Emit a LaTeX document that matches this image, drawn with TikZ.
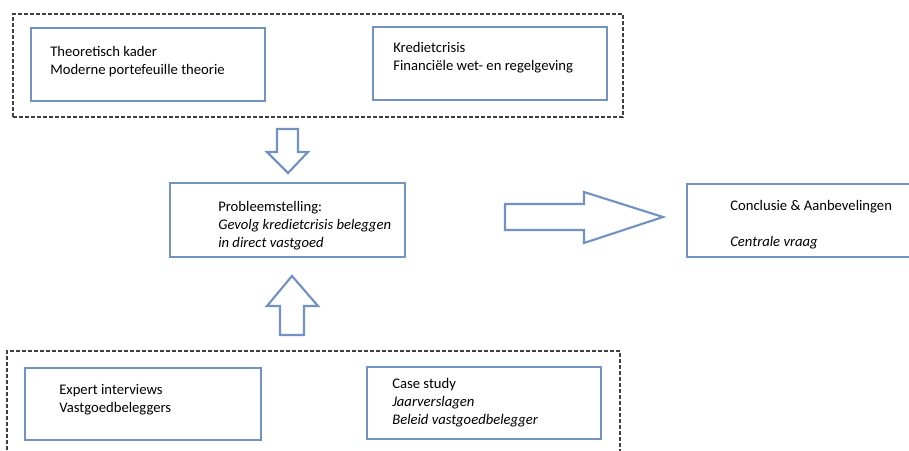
\documentclass[tikz,border=0pt]{standalone}
\usepackage{fontspec}
\setmainfont{Carlito}
\usetikzlibrary{fit}

\definecolor{kaderblauw}{RGB}{113,147,194}

\tikzset{
  blok/.style={draw=kaderblauw, line width=1.9pt, inner sep=0pt},
  groep/.style={draw=black!75, line width=0.8pt, dash pattern=on 3pt off 1.5pt, inner sep=0pt},
  tekst/.style={anchor=west, align=left, inner sep=0pt, font=\fontsize{11}{13.5}\selectfont},
  blokpijl/.style={draw=kaderblauw, line width=1.6pt, fill=white, line join=miter}
}

\begin{document}
\begin{tikzpicture}[x=0.75pt, y=-0.75pt]
  \useasboundingbox (0,0) rectangle (909,450);
  \clip (0,0) rectangle (909,450);

  % Bovenste groep: theorie en context
  \node[groep, fit={(13,14) (623,117)}] (boven) {};
  \node[blok, fit={(31,28) (265,101)}] (theorie) {};
  \node[tekst] (theorie-t) at (50,61.5) {Theoretisch kader\\Moderne portefeuille theorie};
  \node[blok, fit={(373,27) (607,100)}] (krediet) {};
  \node[tekst] (krediet-t) at (393,58) {Kredietcrisis\\Financiële wet- en regelgeving};

  % Probleemstelling in het midden
  \node[blok, fit={(170,183) (405,257)}] (probleem) {};
  \node[tekst] (probleem-t) at (218,225.5) {Probleemstelling:\\\textit{Gevolg kredietcrisis beleggen}\\\textit{in direct vastgoed}};

  % Conclusie rechts (loopt buiten beeld)
  \node[blok, fit={(687,184) (930,257)}] (conclusie) {};
  \node[tekst] (conclusie-t) at (730,224.5) {Conclusie \& Aanbevelingen\\[13pt]\textit{Centrale vraag}};

  % Onderste groep: empirisch onderzoek
  \node[groep, fit={(7,351) (620,470)}] (onder) {};
  \node[blok, fit={(25,368) (261,440)}] (expert) {};
  \node[tekst] (expert-t) at (59,399.5) {Expert interviews\\Vastgoedbeleggers};
  \node[blok, fit={(367,367) (601,439)}] (casus) {};
  \node[tekst] (casus-t) at (392,402.5) {Case study\\\textit{Jaarverslagen}\\\textit{Beleid vastgoedbelegger}};

  % Blokpijlen
  \draw[blokpijl] (277,129) -- (298,129) -- (298,152) -- (308,152) -- (288,173)
    -- (267,152) -- (277,152) -- cycle;
  \draw[blokpijl] (280,335) -- (304,335) -- (304,306) -- (318,306) -- (292,276)
    -- (267,306) -- (280,306) -- cycle;
  \draw[blokpijl] (505,204) -- (584,204) -- (584,192) -- (663,217) -- (584,243)
    -- (584,230) -- (505,230) -- cycle;
\end{tikzpicture}
\end{document}
